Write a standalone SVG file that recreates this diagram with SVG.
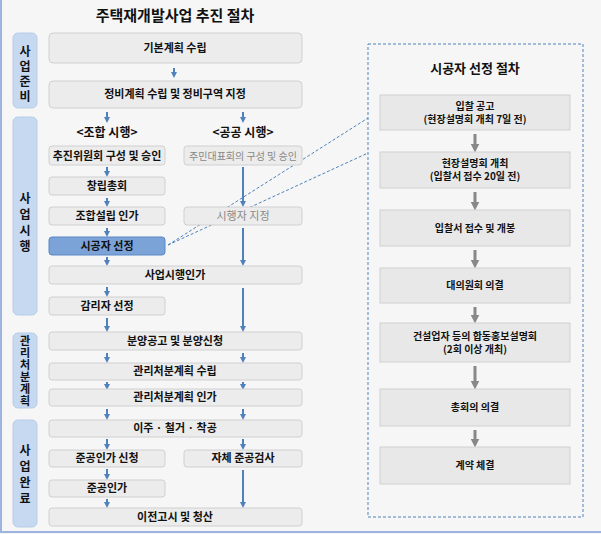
<svg xmlns="http://www.w3.org/2000/svg" width="601" height="534" viewBox="0 0 601 534">
<defs>
<marker id="ah" viewBox="0 0 10 10" refX="5" refY="5" markerWidth="3" markerHeight="3" orient="auto"><path d="M0,0 L10,5 L0,10 z" fill="#4f81bd"/></marker>
<marker id="gh" viewBox="0 0 10 10" refX="5" refY="5" markerWidth="3" markerHeight="3" orient="auto"><path d="M0,0 L10,5 L0,10 z" fill="#888"/></marker>
</defs>
<style>
text{font-family:"Noto Sans CJK KR","Noto Sans",sans-serif;font-size:11px;fill:#111;text-anchor:middle;font-weight:bold}
.b{fill:#ececec;stroke:#d0d0d0;stroke-width:1}
.ph{fill:#c6d9f1;stroke:#b8cde8}
.pt{font-size:12px}
.p3{font-size:11px}
.g{fill:#888;font-weight:normal}
.r{fill:#e8e8e8;stroke:#d0d0d0}
.a{stroke:#4f81bd;stroke-width:2;fill:none;marker-end:url(#ah)}
.ga{stroke:#888;stroke-width:3;fill:none;marker-end:url(#gh)}
.d{stroke:#4f81bd;stroke-width:1;stroke-dasharray:3,2;fill:none}
</style>
<rect width="601" height="534" fill="#f6f6f6"/>
<path d="M1,0 V532 H601" stroke="#9db3e0" stroke-width="2" fill="none"/>
<text x="175" y="21" style="font-size:15px">주택재개발사업 추진 절차</text>
<g id="phases">
<rect class="ph" x="13" y="33" width="24" height="75" rx="5"/>
<text class="pt" x="25" y="56">사</text><text class="pt" x="25" y="71">업</text><text class="pt" x="25" y="86">준</text><text class="pt" x="25" y="101">비</text>
<rect class="ph" x="13" y="117" width="24" height="198" rx="5"/>
<text class="pt" x="25" y="203">사</text><text class="pt" x="25" y="219">업</text><text class="pt" x="25" y="235">시</text><text class="pt" x="25" y="251">행</text>
<rect class="ph" x="13" y="333" width="24" height="75" rx="5"/>
<text class="p3" x="25" y="345">관</text><text class="p3" x="25" y="357">리</text><text class="p3" x="25" y="369">처</text><text class="p3" x="25" y="381">분</text><text class="p3" x="25" y="393">계</text><text class="p3" x="25" y="405">획</text>
<rect class="ph" x="13" y="420" width="24" height="107" rx="5"/>
<text class="pt" x="25" y="455">사</text><text class="pt" x="25" y="471">업</text><text class="pt" x="25" y="487">완</text><text class="pt" x="25" y="503">료</text>
</g>
<text x="107" y="137" style="font-size:12px">&lt;조합 시행&gt;</text>
<text x="243" y="137" style="font-size:12px">&lt;공공 시행&gt;</text>
<g id="connectors">
<path class="a" d="M174,68 V75"/>
<path class="a" d="M107,112 V120"/><path class="a" d="M243,112 V120"/>
<path class="a" d="M107,167 V174"/><path class="a" d="M107,198 V204"/><path class="a" d="M107,228 V234"/><path class="a" d="M107,257 V263"/>
<path class="a" d="M107,287 V294"/><path class="a" d="M107,318 V329"/>
<path class="a" d="M243,167 V204"/><path class="a" d="M243,228 V263"/><path class="a" d="M243,288 V329"/>
<path class="a" d="M107,353 V360"/><path class="a" d="M243,353 V360"/>
<path class="a" d="M107,382 V387"/><path class="a" d="M243,382 V387"/>
<path class="a" d="M107,409 V417"/><path class="a" d="M243,409 V417"/>
<path class="a" d="M107,439 V447"/><path class="a" d="M243,439 V447"/>
<path class="a" d="M107,469 V477"/><path class="a" d="M107,499 V505"/><path class="a" d="M243,470 V505"/>
<path class="d" d="M168,245 L368,118 M168,245 L368,153"/>
<path class="ga" d="M475,134 V148"/><path class="ga" d="M475,192 V206"/><path class="ga" d="M475,250 V264"/><path class="ga" d="M475,307 V319"/><path class="ga" d="M475,366 V385"/><path class="ga" d="M475,430 V443"/>
</g>
<g id="n1"><rect class="b" x="49" y="33" width="253" height="30" rx="4"/><text x="175" y="52">기본계획 수립</text></g>
<g id="n2"><rect class="b" x="49" y="81" width="253" height="27" rx="4"/><text x="175" y="98">정비계획 수립 및 정비구역 지정</text></g>
<g id="n3"><rect class="b" x="49" y="146" width="116" height="19" rx="3"/><text x="107" y="160">추진위원회 구성 및 승인</text></g>
<g id="n4"><rect class="b" x="184" y="146" width="118" height="19" rx="3"/><text class="g" x="243" y="160" style="font-size:10px">주민대표회의 구성 및 승인</text></g>
<g id="n5"><rect class="b" x="49" y="177" width="116" height="18" rx="3"/><text x="107" y="190">창립총회</text></g>
<g id="n6"><rect class="b" x="49" y="207" width="116" height="18" rx="3"/><text x="107" y="220">조합설립 인가</text></g>
<g id="n7"><rect class="b" x="184" y="207" width="118" height="18" rx="3"/><text class="g" x="243" y="220">시행자 지정</text></g>
<g id="n8"><rect x="49" y="237" width="116" height="18" rx="3" fill="#7ba3d8" stroke="#5b87c4"/><text x="107" y="250">시공자 선정</text></g>
<g id="n9"><rect class="b" x="49" y="266" width="253" height="18" rx="3"/><text x="175" y="279">사업시행인가</text></g>
<g id="n10"><rect class="b" x="49" y="297" width="116" height="18" rx="3"/><text x="107" y="310">감리자 선정</text></g>
<g id="n11"><rect class="b" x="49" y="332" width="253" height="18" rx="3"/><text x="175" y="345">분양공고 및 분양신청</text></g>
<g id="n12"><rect class="b" x="49" y="363" width="253" height="17" rx="3"/><text x="175" y="375">관리처분계획 수립</text></g>
<g id="n13"><rect class="b" x="49" y="389" width="253" height="17" rx="3"/><text x="175" y="401">관리처분계획 인가</text></g>
<g id="n14"><rect class="b" x="49" y="420" width="253" height="17" rx="3"/><text x="175" y="432">이주 · 철거 · 착공</text></g>
<g id="n15"><rect class="b" x="49" y="450" width="116" height="17" rx="3"/><text x="107" y="462">준공인가 신청</text></g>
<g id="n16"><rect class="b" x="184" y="450" width="118" height="17" rx="3"/><text x="243" y="462">자체 준공검사</text></g>
<g id="n17"><rect class="b" x="49" y="480" width="116" height="17" rx="3"/><text x="107" y="492">준공인가</text></g>
<g id="n18"><rect class="b" x="49" y="508" width="253" height="18" rx="3"/><text x="175" y="521">이전고시 및 청산</text></g>
<g id="panel"><rect x="368" y="44" width="215" height="473" fill="none" stroke="#4f81bd" stroke-dasharray="3,2"/>
<text x="475" y="73" style="font-size:13px">시공자 선정 절차</text></g>
<g id="r1"><rect class="r" x="380" y="95" width="190" height="35"/><text x="475" y="110" style="font-size:10px">입찰 공고</text><text x="475" y="123" style="font-size:10px">(현장설명회 개최 7일 전)</text></g>
<g id="r2"><rect class="r" x="380" y="152" width="190" height="36"/><text x="475" y="167" style="font-size:10px">현장설명회 개최</text><text x="475" y="180" style="font-size:10px">(입찰서 접수 20일 전)</text></g>
<g id="r3"><rect class="r" x="380" y="210" width="190" height="36"/><text x="475" y="232" style="font-size:10px">입찰서 접수 및 개봉</text></g>
<g id="r4"><rect class="r" x="380" y="268" width="190" height="35"/><text x="475" y="289" style="font-size:10px">대의원회 의결</text></g>
<g id="r5"><rect class="r" x="380" y="323" width="190" height="39"/><text x="475" y="340" style="font-size:10px">건설업자 등의 합동홍보설명회</text><text x="475" y="353" style="font-size:10px">(2회 이상 개최)</text></g>
<g id="r6"><rect class="r" x="380" y="389" width="190" height="37"/><text x="475" y="411" style="font-size:10px">총회의 의결</text></g>
<g id="r7"><rect class="r" x="380" y="447" width="190" height="37"/><text x="475" y="469" style="font-size:10px">계약 체결</text></g>
</svg>
